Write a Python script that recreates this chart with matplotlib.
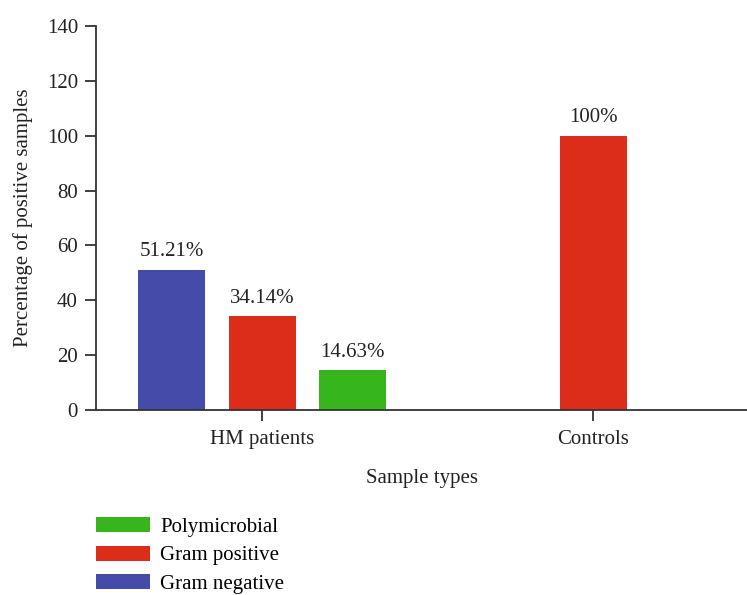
import matplotlib.pyplot as plt
import numpy as np

groups = ["HM patients", "Controls"]
series = ["Gram negative", "Gram positive", "Polymicrobial"]
values = {
    "Gram negative": [51.21, 0],
    "Gram positive": [34.14, 100],
    "Polymicrobial": [14.63, 0],
}
colors = {
    "Gram negative": "#444BA8",
    "Gram positive": "#DC2D1B",
    "Polymicrobial": "#37B51D",
}

plt.rcParams["font.family"] = ["Liberation Serif", "DejaVu Serif"]
fs = 15

fig = plt.figure(figsize=(7.47, 5.95), dpi=100)
ax = fig.add_axes([96 / 747, 1 - 410 / 595, (747 - 96) / 747, (410 - 26) / 595])

width = 0.2024
step = 0.2734
handles = {}
for gi, g in enumerate(groups):
    present = [s for s in series if values[s][gi] > 0]
    n = len(present)
    for k, s in enumerate(present):
        x = gi + (k - (n - 1) / 2) * step
        v = values[s][gi]
        b = ax.bar(x, v, width=width, color=colors[s], zorder=2)
        handles[s] = b
        ax.annotate(f"{v:g}%", xy=(x, v), xytext=(0, 6), textcoords="offset points",
                    ha="center", va="bottom", fontsize=fs, color="#222222")

ax.set_xlim(-0.5015, 1.465)
ax.set_ylim(0, 140)
ax.set_yticks(np.arange(0, 141, 20))
ax.set_xticks(range(len(groups)))
ax.set_xticklabels(groups)
ax.tick_params(axis="both", labelsize=fs, length=8, width=1.3, color="#333333",
               labelcolor="#222222", pad=5)
ax.tick_params(axis="x", pad=6.5)
for side in ["top", "right"]:
    ax.spines[side].set_visible(False)
for side in ["left", "bottom"]:
    ax.spines[side].set_linewidth(1.3)
    ax.spines[side].set_color("#333333")

ax.set_xlabel("Sample types", fontsize=fs, color="#222222", labelpad=14)
ax.set_ylabel("Percentage of positive samples", fontsize=fs, color="#222222", labelpad=10)

order = ["Polymicrobial", "Gram positive", "Gram negative"]
fig.legend([handles[s] for s in order], order, loc="upper left",
           bbox_to_anchor=(90 / 747, 1 - 511 / 595), frameon=False, fontsize=fs,
           handlelength=2.6, handleheight=0.72, handletextpad=0.48, labelspacing=0.42,
           borderaxespad=0, borderpad=0.3)

fig.savefig("out.png", dpi=100)
